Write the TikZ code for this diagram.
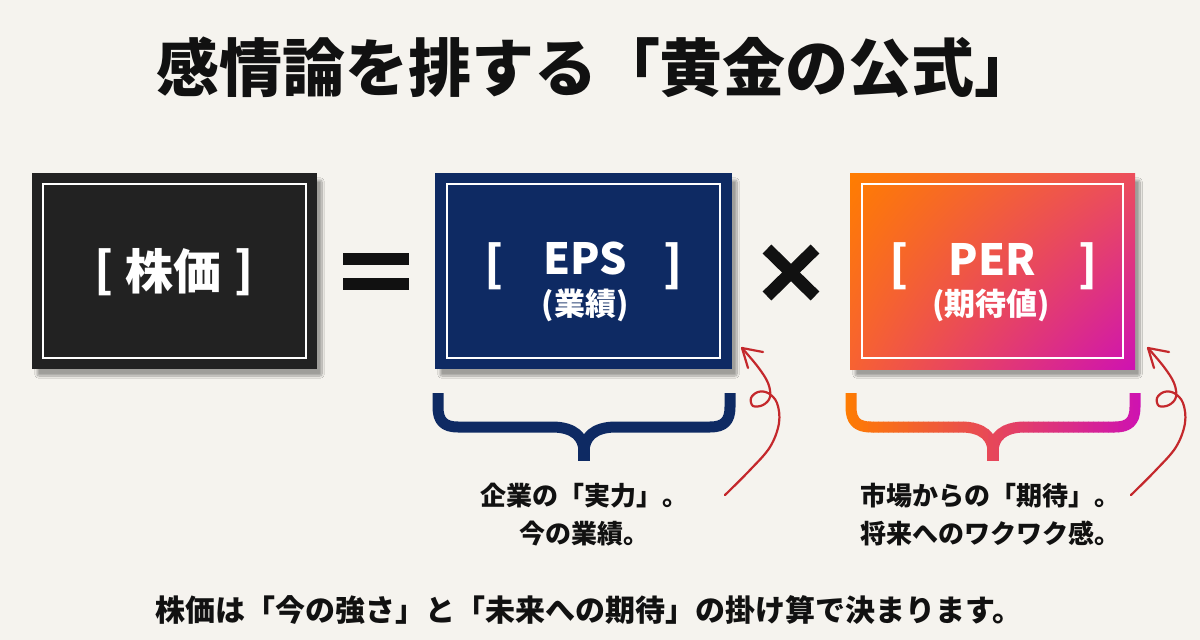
\documentclass[tikz,border=0pt]{standalone}
\usepackage{fontspec}
\setmainfont{Noto Sans CJK JP}
\usetikzlibrary{calc,shadows.blur,shadings}
\definecolor{bg}{RGB}{245,243,238}
\definecolor{ink}{RGB}{17,17,17}
\definecolor{boxdark}{RGB}{34,34,34}
\definecolor{navy}{RGB}{14,42,99}
\definecolor{gA}{RGB}{255,125,0}
\definecolor{gB}{RGB}{206,18,178}
\definecolor{gUR}{RGB}{236,78,92}
\definecolor{gLL}{RGB}{247,98,50}
\definecolor{redpen}{RGB}{196,40,44}
\tikzset{
  panel/.style={minimum height=196pt, inner sep=0pt, draw=none,
    blur shadow={shadow xshift=5pt, shadow yshift=-7pt, shadow blur steps=12,
      shadow blur extra rounding=2pt, shadow opacity=35}},
  innerframe/.style={draw=white, line width=2pt},
  titletext/.style={font=\fontsize{63}{68}\selectfont\bfseries, text=ink},
  bigword/.style={font=\fontsize{48}{52}\selectfont\bfseries, text=white},
  latinword/.style={font=\fontsize{43}{46}\selectfont\bfseries, text=white},
  subword/.style={font=\fontsize{31}{34}\selectfont\bfseries, text=white},
  brk/.style={font=\fontsize{48}{52}\selectfont\bfseries, text=white, inner sep=0pt},
  caption/.style={font=\fontsize{26}{38}\selectfont\bfseries, text=ink, align=center},
  bottomtext/.style={font=\fontsize{30}{34}\selectfont\bfseries, text=ink},
  bracestroke/.style={line width=11pt, line cap=butt, line join=round},
  pen/.style={draw=redpen, line width=2.2pt, line cap=round, line join=round},
  curlyarrow/.pic={
    \draw[pen] plot[smooth, tension=0.6] coordinates {(-17,147) (8,122) (28,99) (37,75) (35,55) (26,45) (16,44) (9,50) (11,58) (21,57) (28,49) (26,35) (16,19) (0,0)};
    \draw[pen] (21,4) -- (0,0) -- (6,20);
  }
}
\begin{document}
\begin{tikzpicture}[x=1pt,y=-1pt]
\fill[bg] (0,0) rectangle (1200,640);
\useasboundingbox (0,0) rectangle (1200,640);

% title
\node[titletext] (title) at (597,67) {感情論を排する「黄金の公式」};

% panels
\node[panel, minimum width=285pt, fill=boxdark] (stock) at (174.5,271) {};
\node[panel, minimum width=297pt, fill=navy] (eps) at (583.5,271) {};
\node[panel, minimum width=285pt, shade, upper left=gA, upper right=gUR, lower left=gLL, lower right=gB] (per) at (992.5,271) {};

\draw[innerframe] ($(stock.north west)+(11,11)$) rectangle ($(stock.south east)+(-11,-11)$);
\draw[innerframe] ($(eps.north west)+(12,11)$) rectangle ($(eps.south east)+(-12,-11)$);
\draw[innerframe] ($(per.north west)+(12,11)$) rectangle ($(per.south east)+(-12,-11)$);

% panel texts
\node[bigword] (stockw) at (173,271) {株価};
\node[brk] (stockl) at (104,272) {[};
\node[brk] (stockr) at (244,272) {]};

\node[latinword] (epsw) at (585,259) {EPS};
\node[subword] (epss) at (585,305) {(業績)};
\node[brk] (epsl) at (494,266) {[};
\node[brk] (epsr) at (673,266) {]};

\node[latinword] (perw) at (992,259) {PER};
\node[subword] (pers) at (991,305) {(期待値)};
\node[brk] (perl) at (899,266) {[};
\node[brk] (perr) at (1088,266) {]};

% operators
\fill[ink] (343,253) rectangle (409,265);
\fill[ink] (343,278) rectangle (409,290);
\draw[ink, line width=12.5pt] (767,249) -- (815,296) (815,249) -- (767,296);

% brace under EPS
\draw[navy, bracestroke] (438,393) -- (438,407) .. controls (438,421) and (444,427) .. (458,427) -- (552,427)
  .. controls (574,427) and (584,437) .. (584,452)
  .. controls (584,437) and (594,427) .. (616,427) -- (710,427)
  .. controls (724,427) and (730,421) .. (730,407) -- (730,393);
\draw[navy, line width=12pt] (584,444) -- (584,461);

% gradient brace under PER
\foreach \i in {0,...,59}{
  \pgfmathtruncatemacro\pp{100-(\i*5+2.5)/3}
  \colorlet{bc}{gA!\pp!gB}
  \begin{scope}
    \clip (843+\i*5,385) rectangle (848.7+\i*5,470);
    \draw[bc, bracestroke] (851,393) -- (851,407) .. controls (851,421) and (857,427) .. (871,427) -- (961,427)
      .. controls (983,427) and (993,437) .. (993,452)
      .. controls (993,437) and (1003,427) .. (1025,427) -- (1115,427)
      .. controls (1129,427) and (1135,421) .. (1135,407) -- (1135,393);
    \draw[bc, line width=12pt] (993,444) -- (993,461);
  \end{scope}
}

% captions
\node[caption] (capeps) at (584,515) {企業の「実力」。\\今の業績。};
\node[caption] (capper) at (990,515) {市場からの「期待」。\\将来へのワクワク感。};

% red hand-drawn arrows
\pic at (742,348) {curlyarrow};
\pic at (1148,348) {curlyarrow};

% bottom line
\node[bottomtext] (bottom) at (589,610) {株価は「今の強さ」と「未来への期待」の掛け算で決まります。};
\end{tikzpicture}
\end{document}
